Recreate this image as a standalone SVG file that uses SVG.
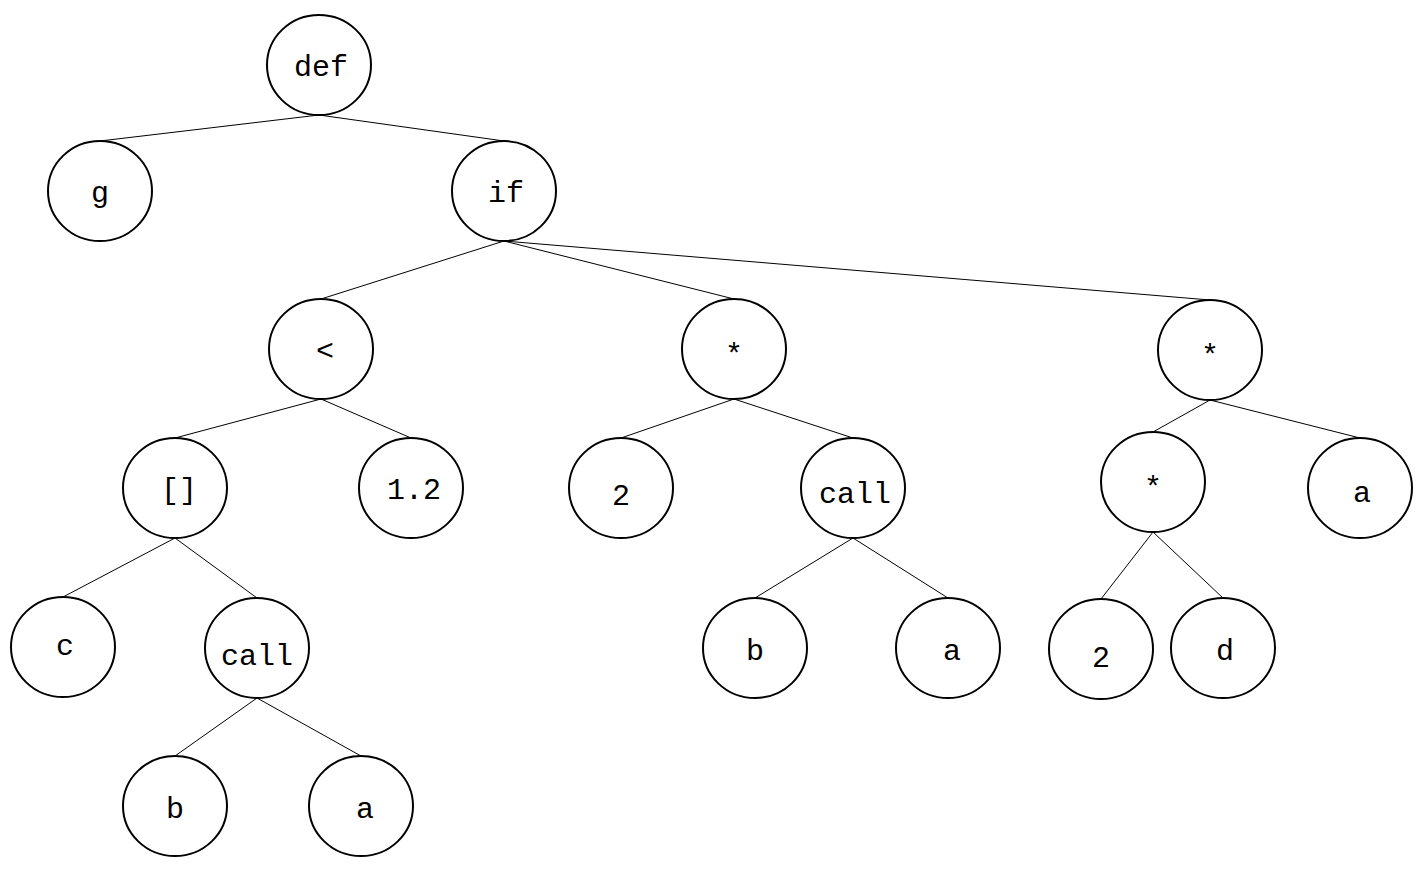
<svg xmlns="http://www.w3.org/2000/svg" width="1425" height="873" viewBox="0 0 1425 873">
<style>
ellipse{fill:#fff;stroke:#000;stroke-width:2}
line{stroke:#000;stroke-width:1}
text{font-family:"Liberation Mono",monospace;font-size:30px;text-anchor:middle}
</style>
<rect width="1425" height="873" fill="#fff"/>
<g id="connectors">
<line x1="319" y1="115" x2="100" y2="141"/><line x1="319" y1="115" x2="504" y2="141"/>
<line x1="504" y1="241" x2="321" y2="299"/><line x1="504" y1="241" x2="734" y2="299"/><line x1="504" y1="241" x2="1210" y2="300"/>
<line x1="321" y1="399" x2="175" y2="438"/><line x1="321" y1="399" x2="411" y2="438"/>
<line x1="734" y1="399" x2="621" y2="438"/><line x1="734" y1="399" x2="853" y2="438"/>
<line x1="1210" y1="400" x2="1153" y2="432"/><line x1="1210" y1="400" x2="1360" y2="438"/>
<line x1="175" y1="538" x2="63" y2="597"/><line x1="175" y1="538" x2="257" y2="598"/>
<line x1="853" y1="538" x2="755" y2="598"/><line x1="853" y1="538" x2="948" y2="598"/>
<line x1="1153" y1="532" x2="1101" y2="599"/><line x1="1153" y1="532" x2="1223" y2="598"/>
<line x1="257" y1="698" x2="175" y2="756"/><line x1="257" y1="698" x2="361" y2="756"/>
</g>
<g id="n_def"><ellipse cx="319" cy="65" rx="52" ry="50"/><text x="321" y="76">def</text></g>
<g id="n_g"><ellipse cx="100" cy="191" rx="52" ry="50"/><text x="100" y="202">g</text></g>
<g id="n_if"><ellipse cx="504" cy="191" rx="52" ry="50"/><text x="506" y="202">if</text></g>
<g id="n_lt"><ellipse cx="321" cy="349" rx="52" ry="50"/><text x="325" y="360">&lt;</text></g>
<g id="n_mul1"><ellipse cx="734" cy="349" rx="52" ry="50"/><text x="734" y="364">*</text></g>
<g id="n_mul2"><ellipse cx="1210" cy="350" rx="52" ry="50"/><text x="1210" y="365">*</text></g>
<g id="n_idx"><ellipse cx="175" cy="488" rx="52" ry="50"/><text x="179" y="499">[]</text></g>
<g id="n_12"><ellipse cx="411" cy="488" rx="52" ry="50"/><text x="414" y="499">1.2</text></g>
<g id="n_2a"><ellipse cx="621" cy="488" rx="52" ry="50"/><text x="621" y="505">2</text></g>
<g id="n_call1"><ellipse cx="853" cy="488" rx="52" ry="50"/><text x="855" y="503">call</text></g>
<g id="n_mul3"><ellipse cx="1153" cy="482" rx="52" ry="50"/><text x="1153" y="497">*</text></g>
<g id="n_a1"><ellipse cx="1360" cy="488" rx="52" ry="50"/><text x="1362" y="502">a</text></g>
<g id="n_c"><ellipse cx="63" cy="647" rx="52" ry="50"/><text x="65" y="655">c</text></g>
<g id="n_call2"><ellipse cx="257" cy="648" rx="52" ry="50"/><text x="257" y="665">call</text></g>
<g id="n_b1"><ellipse cx="755" cy="648" rx="52" ry="50"/><text x="755" y="660">b</text></g>
<g id="n_a2"><ellipse cx="948" cy="648" rx="52" ry="50"/><text x="952" y="660">a</text></g>
<g id="n_2b"><ellipse cx="1101" cy="649" rx="52" ry="50"/><text x="1101" y="667">2</text></g>
<g id="n_d"><ellipse cx="1223" cy="648" rx="52" ry="50"/><text x="1225" y="660">d</text></g>
<g id="n_b2"><ellipse cx="175" cy="806" rx="52" ry="50"/><text x="175" y="818">b</text></g>
<g id="n_a3"><ellipse cx="361" cy="806" rx="52" ry="50"/><text x="365" y="818">a</text></g>
</svg>
